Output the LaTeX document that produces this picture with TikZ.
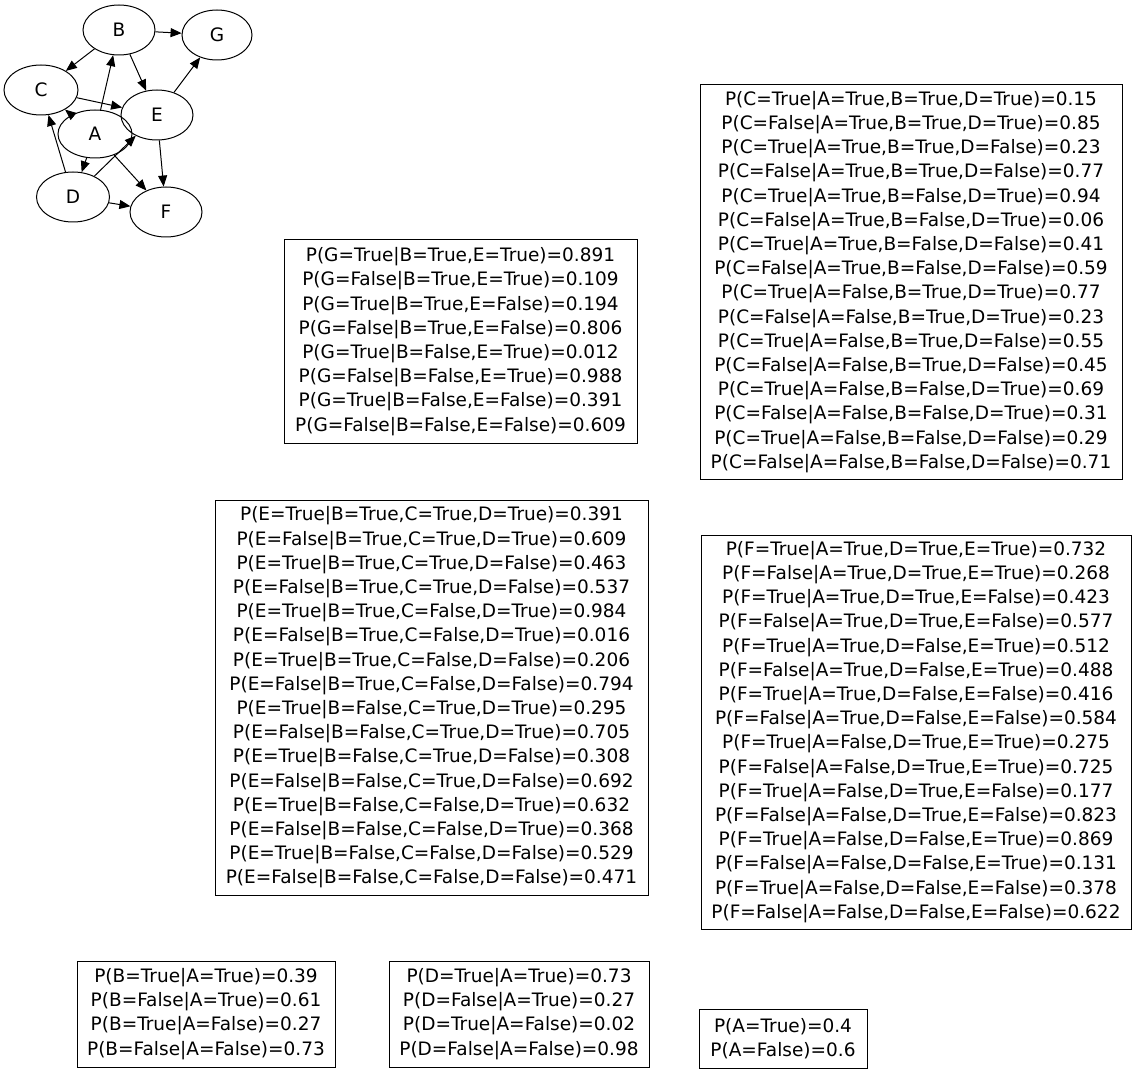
\documentclass[tikz,border=0pt]{standalone}
\usepackage{fontspec}
\setmainfont{DejaVu Sans}
\usetikzlibrary{arrows.meta,shapes.geometric}
\begin{document}
\begin{tikzpicture}[x=1pt,y=-1pt,
  var/.style={draw,ellipse,line width=1pt,inner sep=0pt,minimum width=72pt,minimum height=50pt,font=\fontsize{18.5}{21}\selectfont},
  cpt/.style={draw,rectangle,line width=1pt,inner sep=0pt,align=center,font=\fontsize{18.5}{24.2}\selectfont},
  edge/.style={-{Triangle[length=11pt,width=9pt]},line width=1pt}]
\useasboundingbox[fill=white] (0,0) rectangle (1137,1075);
% graph
\node[var] (B) at (119,30) {B};
\node[var,minimum width=70pt] (G) at (217,35) {G};
\node[var,minimum width=74pt] (C) at (41,90) {C};
\node[var] (E) at (157,115) {E};
\node[var,minimum width=74pt,minimum height=48pt] (A) at (95,134) {A};
\node[var,minimum width=73pt] (D) at (73,197) {D};
\node[var] (F) at (166,212) {F};
\draw[edge] (A) -- (B);
\draw[edge] (A) -- (C);
\draw[edge] (A) -- (D);
\draw[edge] (A) -- (F);
\draw[edge] (B) -- (C);
\draw[edge] (B) -- (E);
\draw[edge] (B) -- (G);
\draw[edge] (C) -- (E);
\draw[edge] (D) -- (C);
\draw[edge] (D) -- (E);
\draw[edge] (D) -- (F);
\draw[edge] (E) -- (F);
\draw[edge] (E) -- (G);
% tables
\node[cpt,minimum width=353pt,minimum height=203pt] (tG) at (460.5,341.5) {P(G=True|B=True,E=True)=0.891\\P(G=False|B=True,E=True)=0.109\\P(G=True|B=True,E=False)=0.194\\P(G=False|B=True,E=False)=0.806\\P(G=True|B=False,E=True)=0.012\\P(G=False|B=False,E=True)=0.988\\P(G=True|B=False,E=False)=0.391\\P(G=False|B=False,E=False)=0.609};
\node[cpt,minimum width=422pt,minimum height=394pt] (tC) at (911,282) {P(C=True|A=True,B=True,D=True)=0.15\\P(C=False|A=True,B=True,D=True)=0.85\\P(C=True|A=True,B=True,D=False)=0.23\\P(C=False|A=True,B=True,D=False)=0.77\\P(C=True|A=True,B=False,D=True)=0.94\\P(C=False|A=True,B=False,D=True)=0.06\\P(C=True|A=True,B=False,D=False)=0.41\\P(C=False|A=True,B=False,D=False)=0.59\\P(C=True|A=False,B=True,D=True)=0.77\\P(C=False|A=False,B=True,D=True)=0.23\\P(C=True|A=False,B=True,D=False)=0.55\\P(C=False|A=False,B=True,D=False)=0.45\\P(C=True|A=False,B=False,D=True)=0.69\\P(C=False|A=False,B=False,D=True)=0.31\\P(C=True|A=False,B=False,D=False)=0.29\\P(C=False|A=False,B=False,D=False)=0.71};
\node[cpt,minimum width=433pt,minimum height=395pt] (tE) at (431.5,697.5) {P(E=True|B=True,C=True,D=True)=0.391\\P(E=False|B=True,C=True,D=True)=0.609\\P(E=True|B=True,C=True,D=False)=0.463\\P(E=False|B=True,C=True,D=False)=0.537\\P(E=True|B=True,C=False,D=True)=0.984\\P(E=False|B=True,C=False,D=True)=0.016\\P(E=True|B=True,C=False,D=False)=0.206\\P(E=False|B=True,C=False,D=False)=0.794\\P(E=True|B=False,C=True,D=True)=0.295\\P(E=False|B=False,C=True,D=True)=0.705\\P(E=True|B=False,C=True,D=False)=0.308\\P(E=False|B=False,C=True,D=False)=0.692\\P(E=True|B=False,C=False,D=True)=0.632\\P(E=False|B=False,C=False,D=True)=0.368\\P(E=True|B=False,C=False,D=False)=0.529\\P(E=False|B=False,C=False,D=False)=0.471};
\node[cpt,minimum width=430pt,minimum height=394pt] (tF) at (916,732) {P(F=True|A=True,D=True,E=True)=0.732\\P(F=False|A=True,D=True,E=True)=0.268\\P(F=True|A=True,D=True,E=False)=0.423\\P(F=False|A=True,D=True,E=False)=0.577\\P(F=True|A=True,D=False,E=True)=0.512\\P(F=False|A=True,D=False,E=True)=0.488\\P(F=True|A=True,D=False,E=False)=0.416\\P(F=False|A=True,D=False,E=False)=0.584\\P(F=True|A=False,D=True,E=True)=0.275\\P(F=False|A=False,D=True,E=True)=0.725\\P(F=True|A=False,D=True,E=False)=0.177\\P(F=False|A=False,D=True,E=False)=0.823\\P(F=True|A=False,D=False,E=True)=0.869\\P(F=False|A=False,D=False,E=True)=0.131\\P(F=True|A=False,D=False,E=False)=0.378\\P(F=False|A=False,D=False,E=False)=0.622};
\node[cpt,minimum width=258pt,minimum height=106pt] (tB) at (206,1014) {P(B=True|A=True)=0.39\\P(B=False|A=True)=0.61\\P(B=True|A=False)=0.27\\P(B=False|A=False)=0.73};
\node[cpt,minimum width=260pt,minimum height=106pt] (tD) at (519,1014) {P(D=True|A=True)=0.73\\P(D=False|A=True)=0.27\\P(D=True|A=False)=0.02\\P(D=False|A=False)=0.98};
\node[cpt,minimum width=168pt,minimum height=59pt] (tA) at (783,1038.5) {P(A=True)=0.4\\P(A=False)=0.6};
\end{tikzpicture}
\end{document}
